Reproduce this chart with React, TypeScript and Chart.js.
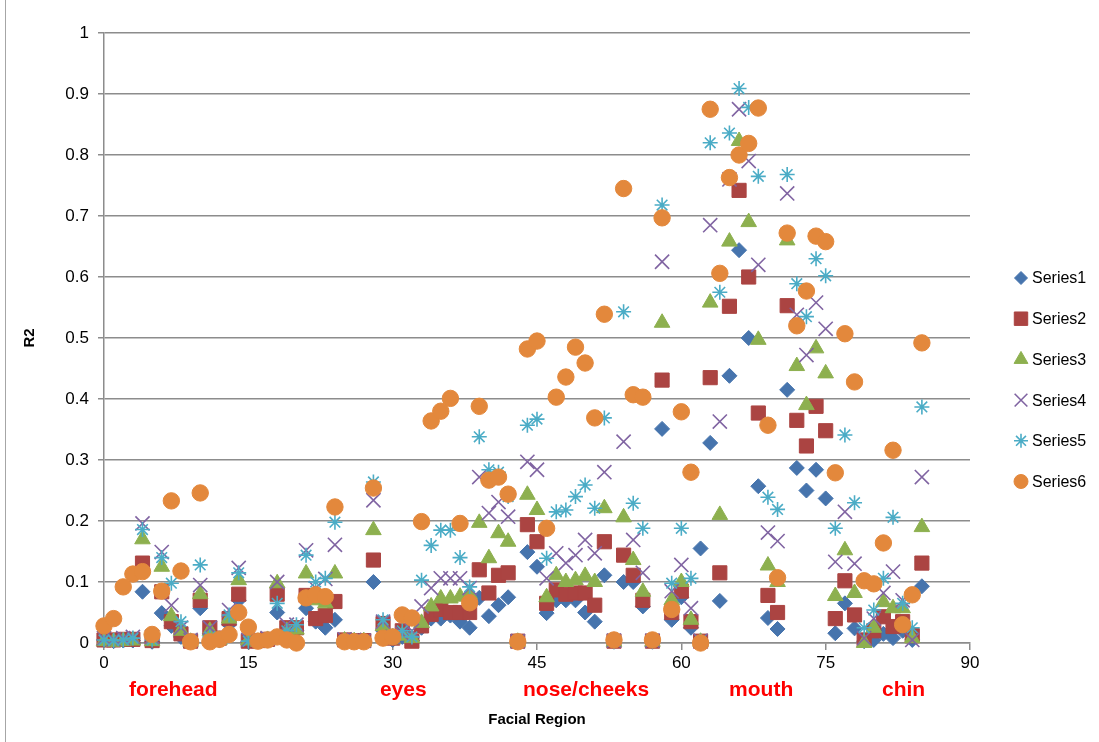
import React, { useEffect, useRef } from 'react';
import { Chart, registerables } from 'chart.js';
import { drawPoint } from 'chart.js/helpers';

Chart.register(...registerables);

const facialIndex = [
  0, 1, 2, 3, 4, 5, 6, 7, 8, 9,
  10, 11, 12, 13, 14, 15, 16, 17, 18, 19,
  20, 21, 22, 23, 24, 25, 26, 27, 28, 29,
  30, 31, 32, 33, 34, 35, 36, 37, 38, 39,
  40, 41, 42, 43, 44, 45, 46, 47, 48, 49,
  50, 51, 52, 53, 54, 55, 56, 57, 58, 59,
  60, 61, 62, 63, 64, 65, 66, 67, 68, 69,
  70, 71, 72, 73, 74, 75, 76, 77, 78, 79,
  80, 81, 82, 83, 84, 85,
];

const series1 = [
  0.005, 0.003, 0.004, 0.004, 0.084, 0.002, 0.049, 0.028, 0.01, 0.002,
  0.057, 0.015, 0.004, 0.03, 0.07, 0.002, 0.003, 0.004, 0.05, 0.015,
  0.02, 0.057, 0.035, 0.025, 0.038, 0.003, 0.002, 0.003, 0.1, 0.02,
  0.005, 0.01, 0.004, 0.025, 0.04, 0.04, 0.045, 0.035, 0.025, 0.074,
  0.044, 0.062, 0.075, 0.002, 0.149, 0.125, 0.049, 0.07, 0.07, 0.07,
  0.05, 0.035, 0.111, 0.002, 0.1, 0.1, 0.06, 0.002, 0.351, 0.038,
  0.075, 0.025, 0.155, 0.328, 0.069, 0.438, 0.644, 0.5, 0.257, 0.041,
  0.023, 0.415, 0.287, 0.25, 0.284, 0.237, 0.016, 0.065, 0.024, 0.003,
  0.005, 0.015, 0.008, 0.02, 0.005, 0.093,
];

const series2 = [
  0.005, 0.005, 0.006, 0.006, 0.131, 0.004, 0.084, 0.035, 0.015, 0.003,
  0.07, 0.025, 0.008, 0.04, 0.08, 0.003, 0.004, 0.006, 0.08, 0.025,
  0.025, 0.078, 0.04, 0.045, 0.068, 0.005, 0.004, 0.004, 0.136, 0.032,
  0.008, 0.02, 0.003, 0.028, 0.047, 0.055, 0.05, 0.05, 0.05, 0.12,
  0.082, 0.111, 0.115, 0.003, 0.194, 0.166, 0.065, 0.087, 0.08, 0.082,
  0.082, 0.062, 0.166, 0.003, 0.144, 0.111, 0.07, 0.003, 0.431, 0.05,
  0.085, 0.035, 0.003, 0.435, 0.115, 0.552, 0.742, 0.6, 0.377, 0.078,
  0.05, 0.553, 0.365, 0.323, 0.388, 0.348, 0.04, 0.102, 0.046, 0.005,
  0.02, 0.043, 0.027, 0.035, 0.012, 0.131,
];

const series3 = [
  0.003, 0.002, 0.003, 0.004, 0.17, 0.003, 0.125, 0.044, 0.02, 0.002,
  0.08, 0.02, 0.005, 0.04, 0.103, 0.004, 0.002, 0.005, 0.098, 0.02,
  0.022, 0.114, 0.07, 0.065, 0.114, 0.004, 0.003, 0.003, 0.185, 0.028,
  0.006, 0.012, 0.008, 0.033, 0.06, 0.073, 0.073, 0.076, 0.08, 0.197,
  0.139, 0.18, 0.166, 0.002, 0.243, 0.218, 0.075, 0.111, 0.1, 0.103,
  0.11, 0.1, 0.221, 0.002, 0.206, 0.136, 0.084, 0.002, 0.525, 0.07,
  0.1, 0.038, 0.002, 0.558, 0.21, 0.658, 0.823, 0.69, 0.497, 0.127,
  0.1, 0.66, 0.454, 0.39, 0.483, 0.442, 0.077, 0.152, 0.082, 0.0,
  0.025, 0.067, 0.057, 0.057, 0.008, 0.19,
];

const series4 = [
  0.008, 0.006, 0.008, 0.01, 0.196, 0.01, 0.149, 0.062, 0.025, 0.005,
  0.095, 0.025, 0.01, 0.054, 0.123, 0.005, 0.006, 0.008, 0.1, 0.03,
  0.03, 0.152, 0.09, 0.105, 0.161, 0.006, 0.005, 0.004, 0.234, 0.035,
  0.01, 0.015, 0.02, 0.06, 0.09, 0.106, 0.106, 0.106, 0.09, 0.272,
  0.213, 0.231, 0.207, 0.003, 0.297, 0.284, 0.106, 0.147, 0.131, 0.144,
  0.169, 0.147, 0.28, 0.004, 0.33, 0.169, 0.115, 0.004, 0.625, 0.085,
  0.128, 0.057, 0.004, 0.685, 0.363, 0.76, 0.875, 0.79, 0.62, 0.181,
  0.167, 0.737, 0.538, 0.472, 0.558, 0.515, 0.133, 0.215, 0.13, 0.008,
  0.04, 0.082, 0.117, 0.07, 0.005, 0.272,
];

const series5 = [
  0.005, 0.004, 0.005, 0.008, 0.186, 0.005, 0.14, 0.098, 0.035, 0.004,
  0.128, 0.01, 0.006, 0.046, 0.115, 0.003, 0.004, 0.006, 0.065, 0.02,
  0.03, 0.144, 0.1, 0.106, 0.198, 0.004, 0.003, 0.003, 0.264, 0.038,
  0.012, 0.02, 0.01, 0.103, 0.16, 0.185, 0.185, 0.14, 0.092, 0.338,
  0.284, 0.28, 0.24, 0.004, 0.357, 0.367, 0.139, 0.215, 0.218, 0.24,
  0.259, 0.221, 0.369, 0.003, 0.543, 0.229, 0.188, 0.003, 0.718, 0.098,
  0.188, 0.106, 0.003, 0.82, 0.575, 0.836, 0.909, 0.878, 0.765, 0.239,
  0.219, 0.768, 0.589, 0.535, 0.63, 0.602, 0.188, 0.341, 0.23, 0.025,
  0.054, 0.106, 0.206, 0.065, 0.025, 0.387,
];

const series6 = [
  0.028, 0.04, 0.092, 0.113, 0.117, 0.014, 0.085, 0.233, 0.118, 0.002,
  0.246, 0.002, 0.006, 0.014, 0.05, 0.026, 0.003, 0.005, 0.01, 0.005,
  0.0, 0.074, 0.079, 0.076, 0.223, 0.002, 0.002, 0.002, 0.254, 0.008,
  0.01, 0.046, 0.041, 0.199, 0.364, 0.38, 0.401, 0.196, 0.066, 0.388,
  0.267, 0.272, 0.244, 0.002, 0.482, 0.495, 0.188, 0.403, 0.436, 0.485,
  0.459, 0.369, 0.539, 0.005, 0.745, 0.407, 0.403, 0.005, 0.697, 0.055,
  0.379, 0.28, 0.0, 0.875, 0.606, 0.763, 0.8, 0.819, 0.877, 0.357,
  0.107, 0.672, 0.52, 0.577, 0.667, 0.658, 0.279, 0.507, 0.428, 0.102,
  0.097, 0.164, 0.316, 0.03, 0.079, 0.492,
];

const seriesNames = ['Series1', 'Series2', 'Series3', 'Series4', 'Series5', 'Series6'];
const xTickStep = 15;
const yTickStep = 0.1;
const regionNames = ['forehead', 'eyes', 'nose/cheeks', 'mouth', 'chin'];
const regionCentres = [7.2, 31.1, 50.1, 68.3, 83.1];
const xTitle = 'Facial Region';
const yTitle = 'R2';

const FONT = '"Liberation Sans", Arial, sans-serif';
const GRID = '#8c8c8c';

const markerStyles = [
  { pointStyle: 'rectRot', radius: 7.5, fill: '#4674AD', stroke: '#4674AD', width: 1, legendRadius: 6.5 },
  { pointStyle: 'rect', radius: 10, fill: '#AB4442', stroke: '#AB4442', width: 1, legendRadius: 9.5 },
  { pointStyle: 'triangle', radius: 9, fill: '#8DB04F', stroke: '#8DB04F', width: 1, legendRadius: 8 },
  { pointStyle: 'crossRot', radius: 10, fill: 'rgba(0,0,0,0)', stroke: '#8064A2', width: 1.6, legendRadius: 9 },
  { pointStyle: 'star', radius: 7.5, fill: 'rgba(0,0,0,0)', stroke: '#4BACC6', width: 1.6, legendRadius: 7 },
  { pointStyle: 'circle', radius: 8.2, fill: '#E3883C', stroke: '#E3883C', width: 1, legendRadius: 7 },
];

export default function App() {
  const ref = useRef<HTMLCanvasElement>(null);

  useEffect(() => {
    const canvas = ref.current;
    if (!canvas) return;
    const allSeries = [series1, series2, series3, series4, series5, series6];

    const overlay = {
      id: 'overlay',
      afterDraw(chart: any) {
        const ctx = chart.ctx as CanvasRenderingContext2D;
        const xs = chart.scales.x;
        ctx.save();
        // chart border (left edge)
        ctx.strokeStyle = '#a6a6a6';
        ctx.lineWidth = 1;
        ctx.beginPath();
        ctx.moveTo(5.5, 0);
        ctx.lineTo(5.5, 742);
        ctx.stroke();

        // region labels
        ctx.fillStyle = '#FF0000';
        ctx.font = `bold 21px ${FONT}`;
        ctx.textAlign = 'center';
        ctx.textBaseline = 'middle';
        regionNames.forEach((name, i) => {
          ctx.fillText(name, xs.getPixelForValue(regionCentres[i]), 690);
        });

        // legend
        const lx = 1021;
        const ly0 = 278;
        const dy = 40.7;
        seriesNames.forEach((name, i) => {
          const st = markerStyles[i];
          const y = ly0 + i * dy;
          ctx.fillStyle = st.fill;
          ctx.strokeStyle = st.stroke;
          ctx.lineWidth = st.width;
          drawPoint(ctx, { pointStyle: st.pointStyle as any, rotation: 0, radius: st.legendRadius, borderWidth: st.width }, lx, y);
          ctx.fillStyle = '#000';
          ctx.font = `16px ${FONT}`;
          ctx.textAlign = 'left';
          ctx.textBaseline = 'middle';
          ctx.fillText(name, 1032, y + 1);
        });
        ctx.restore();
      },
    };

    const chart = new Chart(canvas, {
      type: 'scatter',
      data: {
        datasets: allSeries.map((vals, i) => ({
          label: seriesNames[i],
          data: facialIndex.map((x, j) => ({ x, y: vals[j] })),
          pointStyle: markerStyles[i].pointStyle as any,
          pointRadius: markerStyles[i].radius,
          pointBackgroundColor: markerStyles[i].fill,
          pointBorderColor: markerStyles[i].stroke,
          pointBorderWidth: markerStyles[i].width,
          showLine: false,
          clip: false as any,
          order: 5 - i,
        })),
      },
      options: {
        responsive: false,
        animation: false,
        events: [],
        layout: { padding: { left: 0, right: 129, top: 33, bottom: 0 } },
        plugins: {
          legend: { display: false },
          tooltip: { enabled: false },
        },
        scales: {
          x: {
            type: 'linear',
            min: 0,
            max: 90,
            afterFit: (s: any) => { s.height = 99; },
            ticks: { stepSize: xTickStep, color: '#000', font: { family: FONT, size: 17 }, padding: 3, maxRotation: 0 },
            grid: { drawOnChartArea: false, drawTicks: true, tickLength: 7, color: GRID, lineWidth: 1.5 },
            border: { color: GRID, width: 1.5 },
            title: { display: true, text: xTitle, color: '#000', font: { family: FONT, size: 15, weight: 'bold' }, padding: { top: 0, bottom: 13 } },
          },
          y: {
            min: 0,
            max: 1,
            afterFit: (s: any) => { s.width = 104; },
            ticks: {
              stepSize: yTickStep,
              color: '#000',
              font: { family: FONT, size: 17 },
              padding: 9,
              callback: (v: any) => String(Number(Number(v).toFixed(1))),
            },
            grid: { color: GRID, lineWidth: 1.5, tickLength: 6 },
            border: { color: GRID, width: 1.5 },
            title: { display: true, text: yTitle, color: '#000', font: { family: FONT, size: 15, weight: 'bold' }, padding: { top: 21, bottom: 0 } },
          },
        },
      },
      plugins: [overlay],
    } as any);

    return () => chart.destroy();
  }, []);

  return (
    <div style={{ position: 'absolute', left: 0, top: 0, width: 1099, height: 742, background: '#fff' }}>
      <canvas ref={ref} width={1099} height={742} style={{ display: 'block', width: 1099, height: 742 }} />
    </div>
  );
}
